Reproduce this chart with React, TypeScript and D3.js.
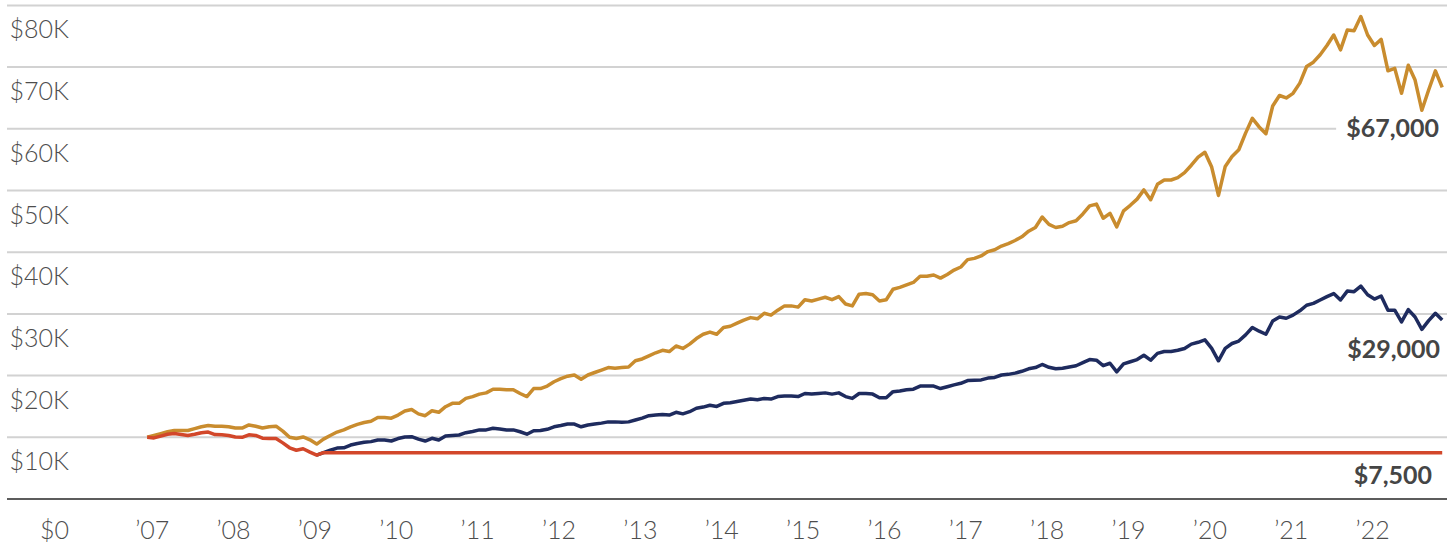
import React, { useRef, useEffect } from "react";
import * as d3 from "d3";

// Monthly values in $K, Jan 2007 (index 0) to Dec 2022 (index 191)
const yearLabels = ["’07", "’08", "’09", "’10", "’11", "’12", "’13", "’14", "’15", "’16", "’17", "’18", "’19", "’20", "’21", "’22"];
const yTicks = [0, 10, 20, 30, 40, 50, 60, 70, 80];

// gold line, whole period
const keptInvesting = [
  10.0, 10.3, 10.6, 10.9, 11.1, 11.1, 11.1, 11.4, 11.7, 11.9,
  11.8, 11.8, 11.7, 11.5, 11.5, 12.0, 11.8, 11.5, 11.7, 11.8,
  11.0, 10.0, 9.8, 10.05, 9.6, 8.9, 9.7, 10.3, 10.85, 11.2,
  11.7, 12.1, 12.4, 12.6, 13.2, 13.2, 13.1, 13.6, 14.26, 14.5,
  13.8, 13.5, 14.3, 14.05, 14.96, 15.5, 15.5, 16.3, 16.6, 17.0,
  17.2, 17.8, 17.8, 17.7, 17.7, 17.1, 16.6, 17.9, 17.9, 18.3,
  19.0, 19.5, 19.9, 20.1, 19.4, 20.1, 20.5, 20.9, 21.3, 21.2,
  21.3, 21.4, 22.4, 22.7, 23.2, 23.7, 24.1, 23.9, 24.8, 24.4,
  25.1, 26.0, 26.7, 27.05, 26.7, 27.8, 28.0, 28.5, 29.0, 29.4,
  29.2, 30.1, 29.8, 30.6, 31.3, 31.3, 31.1, 32.3, 32.1, 32.4,
  32.7, 32.3, 32.8, 31.6, 31.3, 33.2, 33.3, 33.1, 32.1, 32.3,
  34.0, 34.3, 34.7, 35.1, 36.1, 36.1, 36.3, 35.8, 36.4, 37.1,
  37.6, 38.8, 39.0, 39.4, 40.1, 40.4, 41.0, 41.4, 41.9, 42.5,
  43.4, 44.0, 45.7, 44.5, 44.0, 44.2, 44.8, 45.1, 46.2, 47.5,
  47.8, 45.5, 46.3, 44.1, 46.7, 47.6, 48.6, 50.1, 48.5, 51.0,
  51.7, 51.7, 52.1, 52.9, 54.1, 55.4, 56.2, 53.8, 49.2, 53.9,
  55.5, 56.6, 59.3, 61.7, 60.3, 59.2, 63.7, 65.4, 65.0, 65.75,
  67.4, 70.1, 70.8, 72.0, 73.5, 75.2, 72.8, 76.0, 75.9, 78.2,
  75.2, 73.5, 74.5, 69.4, 69.8, 65.75, 70.3, 67.9, 63.0, 66.3,
  69.4, 66.7,
];

// Jan 2007 - Feb 2009, shared by the navy and red lines
const sharedPath = [
  10.0, 9.9, 10.2, 10.5, 10.6, 10.45, 10.3, 10.5, 10.75, 10.85,
  10.45, 10.4, 10.3, 10.05, 10.0, 10.4, 10.3, 9.85, 9.8, 9.8,
  9.1, 8.3, 7.9, 8.15, 7.6, 7.1,
];

// navy line, Mar 2009 onward
const stayedInvested = [
  7.5, 7.9, 8.25, 8.3,
  8.75, 9.0, 9.2, 9.3, 9.56, 9.56, 9.4, 9.8, 10.05, 10.1,
  9.7, 9.4, 9.84, 9.56, 10.2, 10.3, 10.37, 10.75, 10.95, 11.2,
  11.2, 11.46, 11.35, 11.2, 11.2, 10.9, 10.5, 11.07, 11.1, 11.3,
  11.7, 11.9, 12.15, 12.15, 11.7, 12.0, 12.15, 12.3, 12.5, 12.5,
  12.45, 12.5, 12.8, 13.1, 13.5, 13.6, 13.7, 13.6, 14.05, 13.8,
  14.15, 14.7, 14.9, 15.2, 15.0, 15.5, 15.6, 15.8, 16.0, 16.2,
  16.1, 16.3, 16.2, 16.6, 16.7, 16.7, 16.6, 17.1, 17.0, 17.1,
  17.2, 17.0, 17.2, 16.6, 16.3, 17.1, 17.1, 17.0, 16.4, 16.4,
  17.4, 17.5, 17.7, 17.8, 18.3, 18.3, 18.3, 17.9, 18.2, 18.5,
  18.75, 19.2, 19.25, 19.3, 19.6, 19.7, 20.1, 20.2, 20.4, 20.7,
  21.1, 21.3, 21.8, 21.35, 21.1, 21.2, 21.4, 21.6, 22.1, 22.6,
  22.5, 21.6, 22.0, 20.6, 21.9, 22.25, 22.6, 23.3, 22.5, 23.6,
  23.9, 23.9, 24.1, 24.4, 25.1, 25.4, 25.8, 24.4, 22.4, 24.4,
  25.2, 25.6, 26.6, 27.8, 27.2, 26.7, 28.85, 29.5, 29.3, 29.8,
  30.5, 31.4, 31.7, 32.25, 32.8, 33.3, 32.25, 33.7, 33.6, 34.5,
  33.1, 32.4, 32.9, 30.6, 30.6, 28.7, 30.7, 29.5, 27.5, 28.9,
  30.1, 29.0,
];

// red line: sold at the bottom, held in cash
const cashValue = 7.5;
const endLabels = ["$67,000", "$29,000", "$7,500"];

function App() {
  const svgRef = useRef<SVGSVGElement>(null);

  useEffect(() => {
    const width = 1453;
    const height = 546;
    const lastMonth = keptInvesting.length - 1;

    const svg = d3.select(svgRef.current);
    svg.selectAll("*").remove();
    svg.attr("width", width).attr("height", height);

    const x = d3.scaleLinear().domain([0, lastMonth]).range([147.2, 1442.2]);
    const y = d3.scaleLinear().domain([0, 80]).range([499, 5.4]);

    // gridlines
    svg
      .append("g")
      .selectAll("line")
      .data(yTicks.filter((d) => d > 0))
      .enter()
      .append("line")
      .attr("x1", 7)
      .attr("x2", 1447)
      .attr("y1", (d) => y(d))
      .attr("y2", (d) => y(d))
      .attr("stroke", "#d2d2d2")
      .attr("stroke-width", 2);

    svg
      .append("line")
      .attr("x1", 7)
      .attr("x2", 1447)
      .attr("y1", y(0))
      .attr("y2", y(0))
      .attr("stroke", "#5c5c5c")
      .attr("stroke-width", 2);

    // y labels
    svg
      .append("g")
      .selectAll("text")
      .data(yTicks)
      .enter()
      .append("text")
      .attr("x", 69)
      .attr("y", (d) => (d === 0 ? 539 : y(d) + 33))
      .attr("text-anchor", "end")
      .style("font-family", "Lato, sans-serif")
      .style("font-weight", 300)
      .style("font-size", "25px")
      .style("fill", "#4d4d4d")
      .text((d) => (d === 0 ? "$0" : `$${d}K`));

    // x labels
    svg
      .append("g")
      .selectAll("text")
      .data(yearLabels)
      .enter()
      .append("text")
      .attr("x", (_d, i) => x(i * 12) + 5)
      .attr("y", 539)
      .attr("text-anchor", "middle")
      .style("font-family", "Lato, sans-serif")
      .style("font-weight", 300)
      .style("font-size", "25px")
      .style("fill", "#4d4d4d")
      .text((d) => d);

    // end labels, with white boxes over the gridlines
    const labelCenters = [
      y(keptInvesting[lastMonth]) + 41,
      y(stayedInvested[stayedInvested.length - 1]) + 29,
      y(cashValue) + 22,
    ];
    const labelRight = [1439, 1440, 1432];
    const labelG = svg.append("g");
    endLabels.forEach((t, i) => {
      const rect = labelG.append("rect").attr("fill", "#fff");
      const txt = labelG
        .append("text")
        .attr("x", labelRight[i])
        .attr("y", labelCenters[i] + 9)
        .attr("text-anchor", "end")
        .style("font-family", "Lato, sans-serif")
        .style("font-weight", 700)
        .style("font-size", "25px")
        .style("fill", "#454545")
        .text(t);
      const bb = (txt.node() as SVGTextElement).getBBox();
      rect
        .attr("x", bb.x - 10)
        .attr("y", bb.y)
        .attr("width", bb.width + 20)
        .attr("height", bb.height);
    });

    const line = d3
      .line<[number, number]>()
      .x((d) => x(d[0]))
      .y((d) => y(d[1]));

    const goldPts: [number, number][] = keptInvesting.map((v, i) => [i, v]);
    const firstAfter = sharedPath.length;
    const navyPts: [number, number][] = [[firstAfter - 1, sharedPath[firstAfter - 1]]].concat(
      stayedInvested.map((v, i) => [firstAfter + i, v] as [number, number])
    ) as [number, number][];
    const redPts: [number, number][] = sharedPath
      .map((v, i) => [i, v] as [number, number])
      .concat([
        [firstAfter, cashValue],
        [lastMonth, cashValue],
      ]);

    const series = [
      { pts: goldPts, color: "#c98c2e" },
      { pts: navyPts, color: "#1e2b5e" },
      { pts: redPts, color: "#d2472a" },
    ];

    series.forEach((s) => {
      svg
        .append("path")
        .datum(s.pts)
        .attr("fill", "none")
        .attr("stroke", s.color)
        .attr("stroke-width", 3.5)
        .attr("stroke-linejoin", "round")
        .attr("d", line);
    });
  }, []);

  return (
    <svg
      ref={svgRef}
      style={{ position: "absolute", left: 0, top: 0, display: "block" }}
    ></svg>
  );
}

export default App;
